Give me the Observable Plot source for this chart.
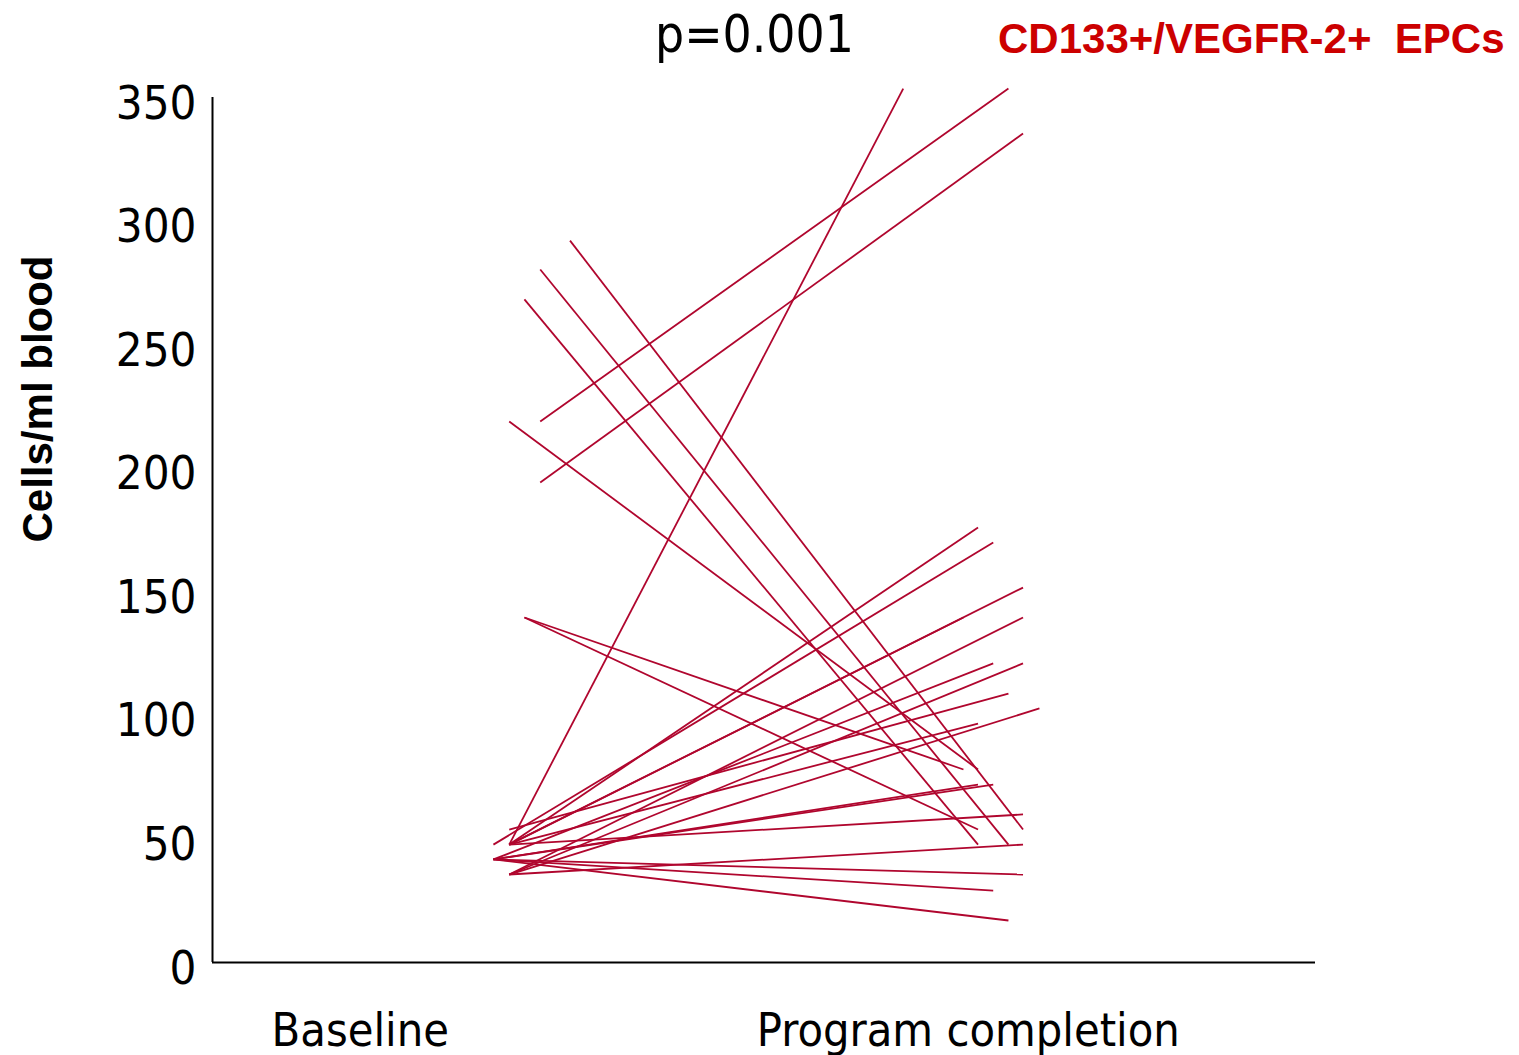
<!DOCTYPE html>
<html>
<head>
<meta charset="utf-8">
<script src="https://cdn.jsdelivr.net/npm/d3@7"></script>
<script src="https://cdn.jsdelivr.net/npm/@observablehq/plot@0.6"></script>
<style>
  html, body { margin: 0; padding: 0; background: #fff; }
  #chart { width: 1519px; height: 1055px; }
  svg { overflow: visible; }
</style>
</head>
<body>
<div id="chart"></div>
<script>
// ---- Data ----
const groupLabels = ["Baseline", "Program completion"];
const yTicks = [0, 50, 100, 150, 200, 250, 300, 350];
const yDomain = [0, 350];
const xDomain = [0.757, 2.571];

// cells/ml blood at baseline and at program completion, one entry per patient
const baselineValues   = [292.1, 280.4, 268.3, 218.9, 218.9, 194.2, 139.6, 139.6,
                          47.7, 47.7, 47.7, 47.7, 47.7, 47.7,
                          41.7, 41.7, 41.7, 41.7, 41.7, 41.7,
                          47.7, 53.8, 35.6, 35.6, 35.6, 35.6];
const completionValues = [53.8, 47.7, 47.7, 353.6, 78.1, 335.4, 78.1, 53.8,
                          353.6, 176.0, 151.7, 139.6, 96.7, 59.9,
                          121.0, 72.0, 72.0, 35.6, 29.1, 17.0,
                          169.9, 108.8, 139.6, 121.0, 102.8, 47.7];
// horizontal jitter of each patient's end points, relative to its group (group 1 / group 2)
const baselineJitter   = [0.345, 0.296, 0.270, 0.296, 0.245, 0.296, 0.270, 0.270,
                          0.245, 0.245, 0.245, 0.245, 0.245, 0.245,
                          0.219, 0.219, 0.219, 0.219, 0.219, 0.219,
                          0.219, 0.245, 0.245, 0.245, 0.245, 0.245];
const completionJitter = [0.090, 0.066, 0.016, 0.066, 0.016, 0.090, -0.008, 0.016,
                          -0.107, 0.016, 0.090, -0.008, 0.016, 0.090,
                          0.041, 0.016, 0.041, 0.090, 0.041, 0.066,
                          0.041, 0.066, 0.090, 0.090, 0.117, 0.090];

const rows = baselineValues.map((b, i) => ({
  x1: 1 + baselineJitter[i], y1: b,
  x2: 2 + completionJitter[i], y2: completionValues[i]
}));

const tickFont = "'DejaVu Sans Condensed', 'DejaVu Sans', sans-serif";

const chart = Plot.plot({
  width: 1519,
  height: 1055,
  marginLeft: 212,
  marginRight: 204,
  marginTop: 97,
  marginBottom: 93,
  style: { background: "white", fontFamily: tickFont, color: "black", overflow: "visible" },
  x: { domain: xDomain },
  y: { domain: yDomain },
  marks: [
    Plot.link(rows, { x1: "x1", y1: "y1", x2: "x2", y2: "y2",
                      stroke: "#b0062e", strokeWidth: 1.8 }),
    Plot.ruleY([yDomain[0]], { stroke: "black", strokeWidth: 2 }),
    Plot.ruleX([xDomain[0]], { stroke: "black", strokeWidth: 2 }),
    Plot.axisY({ ticks: yTicks, tickSize: 0, tickPadding: 16, fontSize: 47,
                 fontFamily: tickFont, label: null, dy: 6 }),
    Plot.axisX({ ticks: [1, 2], tickFormat: d => groupLabels[d - 1], tickSize: 0,
                 tickPadding: 50, fontSize: 46.5, fontFamily: tickFont, label: null })
  ]
});

document.getElementById("chart").appendChild(chart);

const svg = d3.select(chart);
svg.append("text")
  .attr("x", 655).attr("y", 52)
  .attr("text-anchor", "start")
  .attr("font-family", tickFont).attr("font-size", 51).attr("fill", "black")
  .text("p=0.001");
svg.append("text")
  .attr("x", 998).attr("y", 53)
  .attr("text-anchor", "start")
  .attr("font-family", "'Liberation Sans', Arial, sans-serif")
  .attr("font-weight", "bold").attr("font-size", 42).attr("fill", "#cc0000")
  .style("white-space", "pre")
  .text("CD133+/VEGFR-2+  EPCs");
svg.append("text")
  .attr("transform", "translate(52,399) rotate(-90)")
  .attr("text-anchor", "middle")
  .attr("font-family", "'Liberation Sans', Arial, sans-serif")
  .attr("font-weight", "bold").attr("font-size", 42).attr("fill", "black")
  .text("Cells/ml blood");
</script>
</body>
</html>
